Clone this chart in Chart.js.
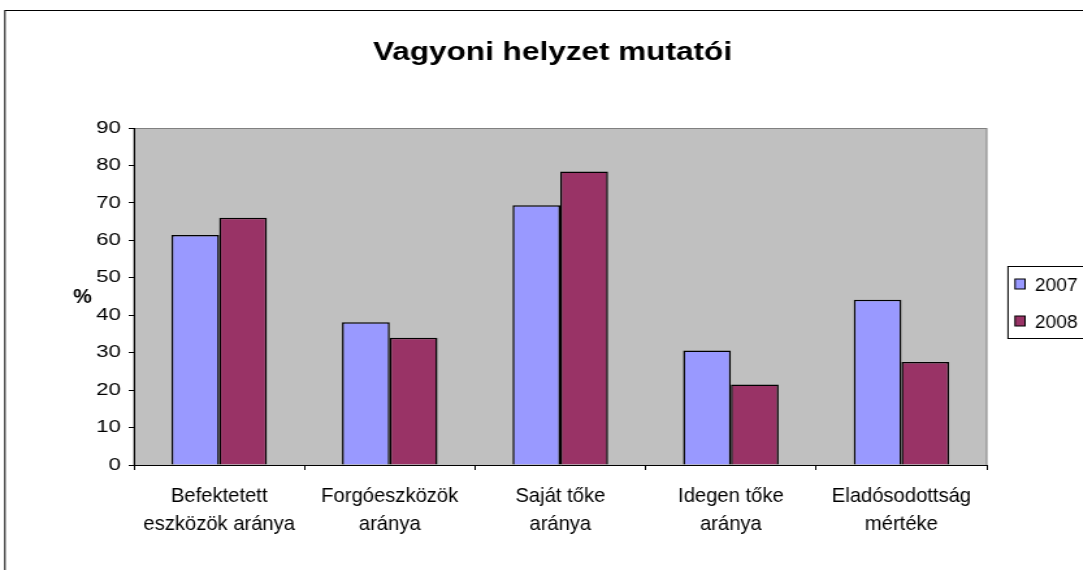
<!DOCTYPE html>
<html>
<head>
<meta charset="utf-8">
<script src="https://cdn.jsdelivr.net/npm/chart.js@4.4.1/dist/chart.umd.min.js"></script>
<style>
  html, body { margin: 0; padding: 0; background: #fff; overflow: hidden; }
  /* the reference is stretched sideways, so draw narrow and widen */
  #wrap { width: 833px; height: 570px; transform: scaleX(1.3); transform-origin: 0 0; }
</style>
</head>
<body>
<div id="wrap"><canvas id="chart"></canvas></div>
<script>
// ------------- DATA -------------
const categories = [
  ["Befektetett", "eszközök aránya"],
  ["Forgóeszközök", "aránya"],
  ["Saját tőke", "aránya"],
  ["Idegen tőke", "aránya"],
  ["Eladósodottság", "mértéke"]
];
const seriesNames = ["2007", "2008"];
const values2007 = [61.4, 38.1, 69.4, 30.6, 44.1];
const values2008 = [66.0, 34.0, 78.4, 21.5, 27.5];
const yTicks = [0, 10, 20, 30, 40, 50, 60, 70, 80, 90];

const titleText = "Vagyoni helyzet mutatói";
const yLabel = "%";
const FONT = "'Liberation Sans', Arial, sans-serif";

// text squeezed sideways (the wrapper widens everything by 1.3)
function squeezedText(ctx, text, x, y, sx){
  ctx.save();
  ctx.translate(x, y);
  ctx.scale(sx, 1);
  ctx.fillText(text, 0, 0);
  ctx.restore();
}

// backdrop: outer frame, gray plot area, title and the "%" label
const backdrop = {
  id: 'backdrop',
  beforeDraw(chart){
    const ctx = chart.ctx, a = chart.chartArea;
    ctx.save();
    ctx.fillStyle = '#fff';
    ctx.fillRect(0, 0, chart.width, chart.height);
    ctx.strokeStyle = '#000';
    ctx.lineWidth = 1;
    ctx.strokeRect(3.8, 10.5, chart.width + 20, chart.height + 20);
    ctx.fillStyle = '#c0c0c0';
    ctx.fillRect(a.left, a.top, a.right - a.left, a.bottom - a.top);
    ctx.strokeStyle = '#808080';
    ctx.strokeRect(a.left, a.top + 0.5, a.right - a.left, a.bottom - a.top);
    ctx.fillStyle = '#000';
    ctx.textAlign = 'center';
    ctx.textBaseline = 'alphabetic';
    ctx.font = `bold 25px ${FONT}`;
    squeezedText(ctx, titleText, 425, 60, 0.97);
    ctx.font = `bold 21px ${FONT}`;
    squeezedText(ctx, yLabel, 63.5, 303, 0.77);
    ctx.restore();
  }
};

// two-line category labels under the x axis
const catLabels = {
  id: 'catLabels',
  afterDraw(chart){
    const ctx = chart.ctx, x = chart.scales.x;
    ctx.save();
    ctx.fillStyle = '#000';
    ctx.textAlign = 'center';
    ctx.textBaseline = 'alphabetic';
    ctx.font = `21px ${FONT}`;
    chart.data.labels.forEach((lines, i) => {
      const px = x.getPixelForTick(i);
      lines.forEach((t, j) => squeezedText(ctx, t, px, 502 + j * 28, 0.74));
    });
    ctx.restore();
  }
};

// Excel style legend box at the right
const boxLegend = {
  id: 'boxLegend',
  afterDraw(chart){
    const ctx = chart.ctx;
    ctx.save();
    ctx.strokeStyle = '#000';
    ctx.lineWidth = 1;
    ctx.strokeRect(775.4, 266.5, 100, 72);
    ctx.font = `18.5px ${FONT}`;
    ctx.textAlign = 'left';
    ctx.textBaseline = 'alphabetic';
    chart.data.datasets.forEach((ds, i) => {
      const y = 284 + i * 37;
      ctx.fillStyle = ds.backgroundColor;
      ctx.fillRect(780.8, y - 5, 7.7, 10);
      ctx.strokeRect(780.8, y - 5, 7.7, 10);
      ctx.fillStyle = '#000';
      squeezedText(ctx, ds.label, 796, y + 6.7, 0.8);
    });
    ctx.restore();
  }
};

const ctx = document.getElementById('chart').getContext('2d');
new Chart(ctx, {
  type: 'bar',
  data: {
    labels: categories,
    datasets: [
      { label: seriesNames[0], data: values2007, backgroundColor: '#9999ff', borderColor: '#000', borderWidth: 1.5 },
      { label: seriesNames[1], data: values2008, backgroundColor: '#993366', borderColor: '#000', borderWidth: 1.5 }
    ]
  },
  options: {
    responsive: true,
    maintainAspectRatio: false,
    animation: false,
    layout: { padding: { left: 0, top: 128, right: 74, bottom: 0 } },
    datasets: { bar: { categoryPercentage: 0.56, barPercentage: 1.0 } },
    plugins: { legend: { display: false }, tooltip: { enabled: false }, title: { display: false } },
    scales: {
      x: {
        grid: { drawOnChartArea: false, drawTicks: true, tickLength: 5, tickColor: '#000', offset: true },
        border: { display: true, color: '#000', width: 1 },
        ticks: { display: false, autoSkip: false },
        afterFit(s){ s.height = 105; }
      },
      y: {
        min: 0, max: 90,
        afterBuildTicks(s){ s.ticks = yTicks.map(v => ({ value: v })); },
        grid: { drawOnChartArea: false, drawTicks: true, tickLength: 4, tickColor: '#000' },
        border: { display: true, color: '#000', width: 1 },
        ticks: { color: '#000', font: { family: FONT, size: 17 }, padding: 6 },
        afterFit(s){ s.width = 103; }
      }
    }
  },
  plugins: [backdrop, catLabels, boxLegend]
});
</script>
</body>
</html>
